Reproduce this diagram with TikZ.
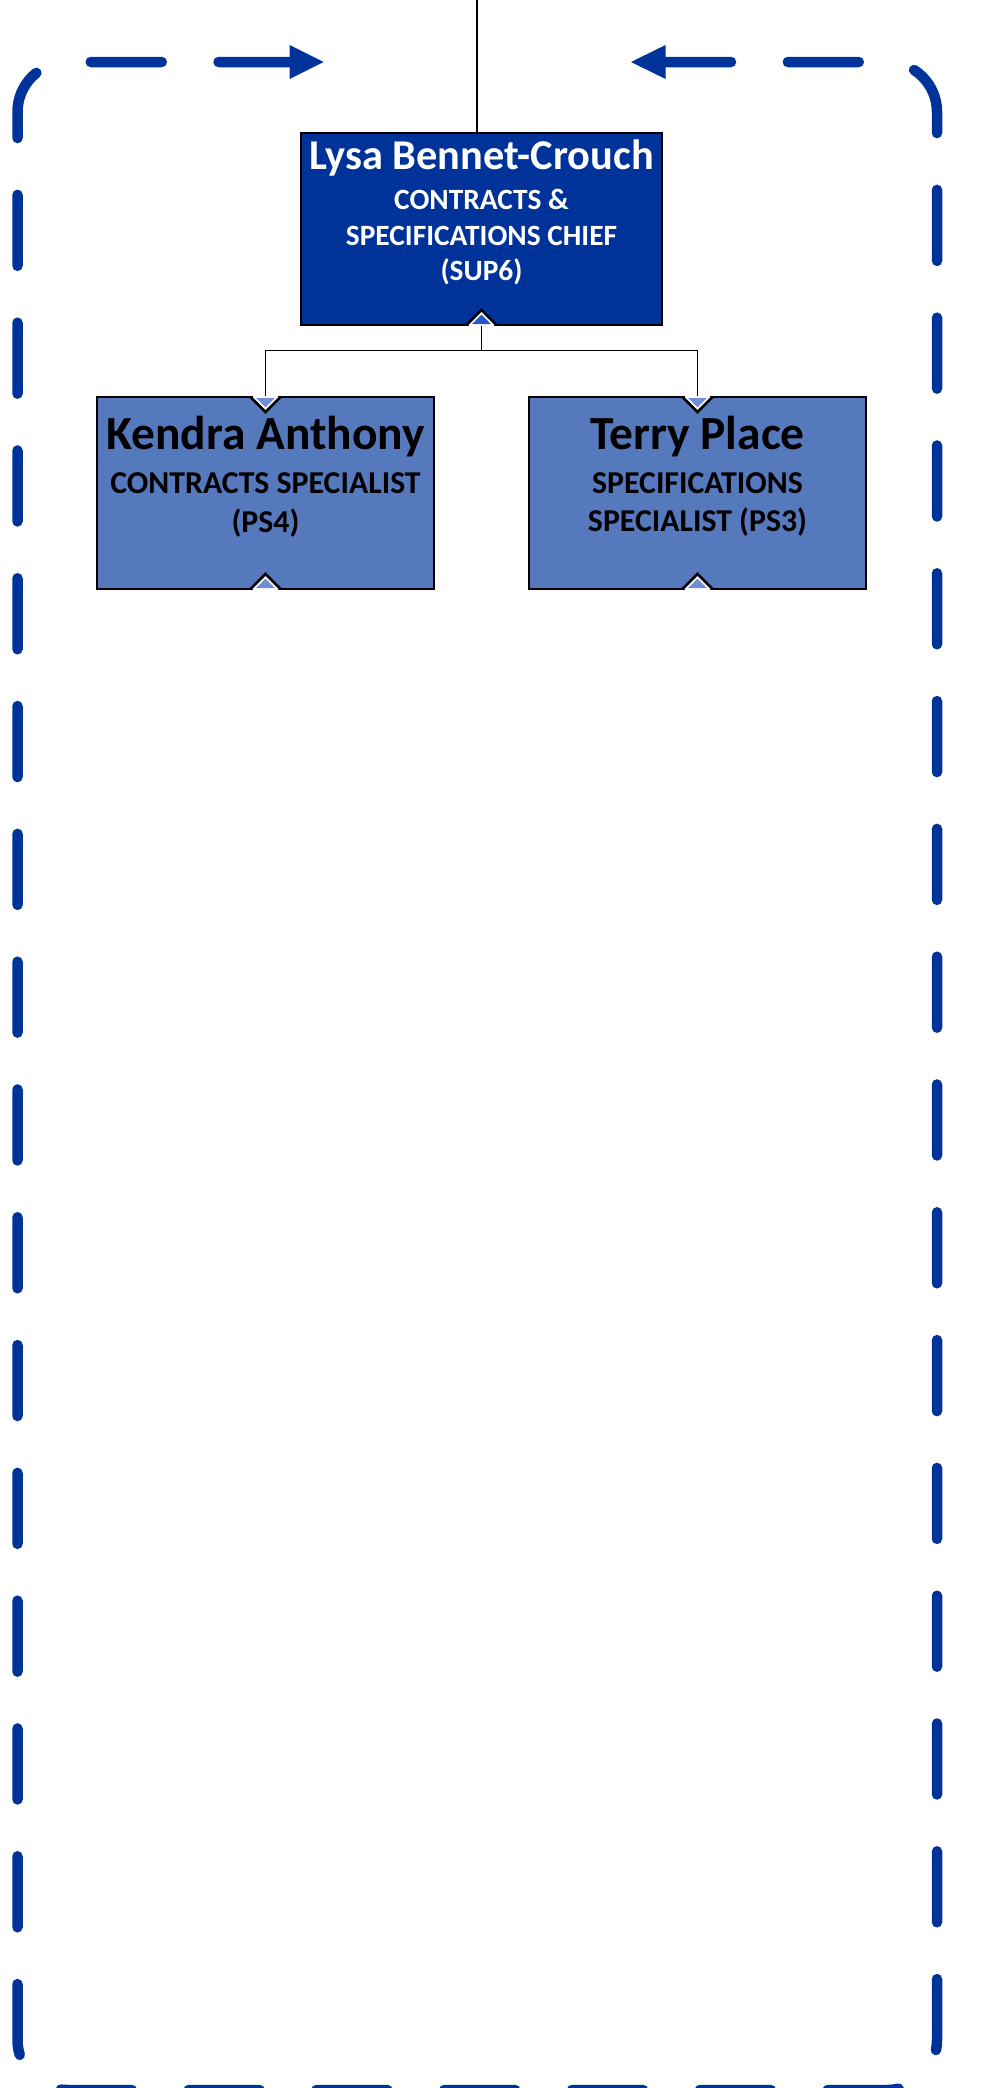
\documentclass[tikz,border=0pt]{standalone}
\usepackage{fontspec}
\setmainfont{Carlito}
\definecolor{navy}{RGB}{0,51,153}
\definecolor{midblue}{RGB}{86,120,189}
\definecolor{notchdark}{RGB}{40,88,200}
\definecolor{notchlight}{RGB}{112,142,212}
\tikzset{
  frame/.style={draw=navy, line width=10.5pt, line cap=round, dash pattern=on 71pt off 56.8pt, rounded corners=50pt},
  headtip/.style={fill=navy},
  chiefbox/.style={draw=black, line width=2.5pt, fill=navy, minimum width=361pt, minimum height=192pt, inner sep=0pt},
  staffbox/.style={draw=black, line width=2.5pt, fill=midblue, minimum width=337pt, minimum height=192pt, inner sep=0pt},
  conn/.style={draw=black, line width=1.5pt},
  chiefname/.style={anchor=base, inner sep=0pt, text=white, font=\bfseries\fontsize{42.4pt}{50pt}\selectfont},
  chiefsub/.style={anchor=base, inner sep=0pt, text=white, font=\bfseries\fontsize{29.4pt}{36pt}\selectfont},
  staffname/.style={anchor=base, inner sep=0pt, text=black, font=\bfseries\fontsize{47.5pt}{56pt}\selectfont},
  staffsub/.style={anchor=base, inner sep=0pt, text=black, font=\bfseries\fontsize{31.8pt}{39pt}\selectfont},
}
\newcommand\notchup[3]{%
  \begin{scope}[shift={(#1,#2)}]
    \draw[line width=2.5pt, fill=white, miter limit=10] (-15,0) -- (0,-15) -- (15,0);
    \fill[white] (-12.8,-1.3) rectangle (12.8,1.3);
    \fill[#3] (-9.4,-1) -- (0,-10.4) -- (9.4,-1) -- cycle;
  \end{scope}}
\newcommand\notchdown[3]{%
  \begin{scope}[shift={(#1,#2)}]
    \draw[line width=2.5pt, fill=white, miter limit=10] (-15,0) -- (0,15) -- (15,0);
    \fill[white] (-12.8,-1.3) rectangle (12.8,1.3);
    \fill[#3] (-9.4,1) -- (0,10.4) -- (9.4,1) -- cycle;
  \end{scope}}
\begin{document}
\begin{tikzpicture}[x=1pt,y=-1pt]
  \useasboundingbox (0,0) rectangle (991,2088);
  \fill[white] (0,0) rectangle (991,2088);
  \clip (0,0) rectangle (991,2088);

  % dashed frame with arrows
  \coordinate (fA) at (660,62);
  \coordinate (fTR) at (937,62);
  \coordinate (fBR) at (937,2090);
  \coordinate (fBL) at (17.5,2090);
  \coordinate (fTL) at (17.5,62);
  \coordinate (fB) at (291,62);
  \draw[frame] (fA) -- (fTR) -- (fBR) -- (fBL) -- (fTL) -- (fB);
  \fill[headtip] (289.5,45) -- (323.6,62) -- (289.5,79) -- cycle;
  \fill[headtip] (665.6,45) -- (631,62) -- (665.6,79) -- cycle;

  % boxes
  \node[chiefbox] (lysa) at (481.5,229) {};
  \node[staffbox] (kendra) at (265.5,493) {};
  \node[staffbox] (terry) at (697.5,493) {};

  % connectors
  \coordinate (topin) at (477,0);
  \draw[conn] (topin) -- (topin |- lysa.north);
  \draw[conn] (lysa.south) -- ++(0,24) -| (kendra.north);
  \draw[conn] (lysa.south) -- ++(0,24) -| (terry.north);

  % connection notches
  \notchup{481.5}{325}{notchdark}
  \notchdown{265.5}{397}{notchlight}
  \notchdown{697.5}{397}{notchlight}
  \notchup{265.5}{589}{notchlight}
  \notchup{697.5}{589}{notchlight}

  % texts
  \node[chiefname] (lysa-n) at (481.5,169) {Lysa Bennet-Crouch};
  \node[chiefsub] (lysa-1) at (481.5,209) {CONTRACTS \&};
  \node[chiefsub] (lysa-2) at (481.5,245) {SPECIFICATIONS CHIEF};
  \node[chiefsub] (lysa-3) at (481.5,280) {(SUP6)};

  \node[staffname] (kendra-n) at (265.5,449) {Kendra Anthony};
  \node[staffsub] (kendra-1) at (265.5,493) {CONTRACTS SPECIALIST};
  \node[staffsub] (kendra-2) at (265.5,532) {(PS4)};

  \node[staffname] (terry-n) at (697.5,449) {Terry Place};
  \node[staffsub] (terry-1) at (697.5,493) {SPECIFICATIONS};
  \node[staffsub] (terry-2) at (697.5,531) {SPECIALIST (PS3)};
\end{tikzpicture}
\end{document}
